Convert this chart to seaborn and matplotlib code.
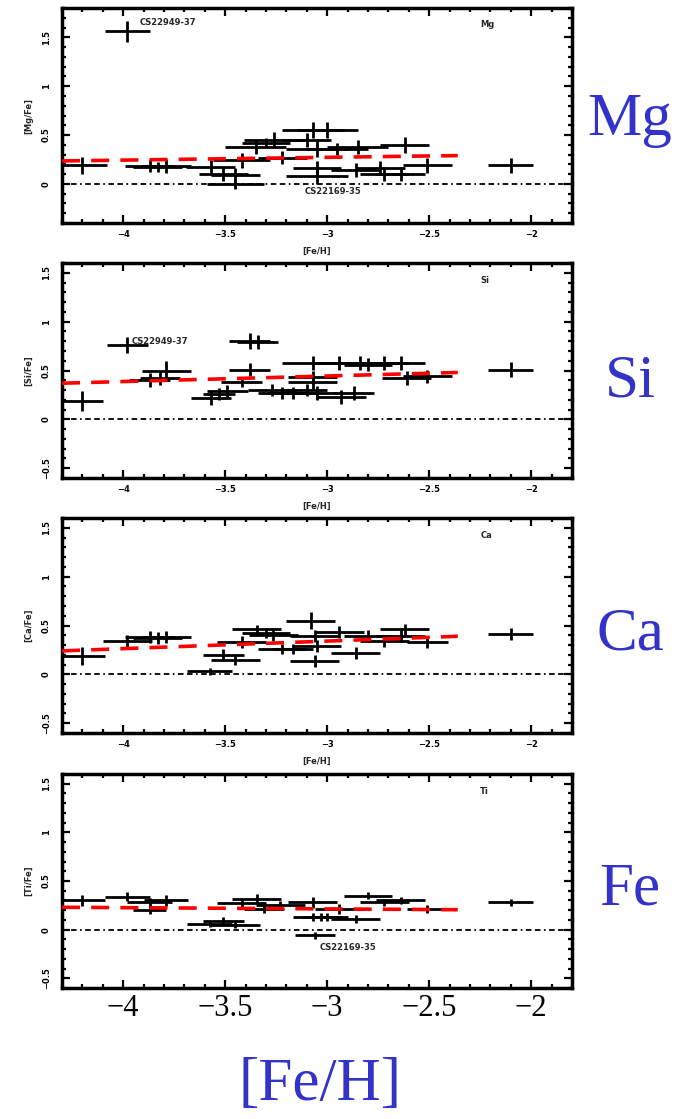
import numpy as np
import matplotlib
matplotlib.use("Agg")
import matplotlib.pyplot as plt
import seaborn as sns
from matplotlib.ticker import MultipleLocator, FixedLocator

# ---------------- data ----------------
mg_feh  = [-4.20, -3.98, -3.87, -3.83, -3.79, -3.57, -3.51, -3.45, -3.45, -3.42, -3.35, -3.30, -3.26, -3.22,
           -3.10, -3.07, -3.00, -3.05, -3.05, -3.05, -2.95, -2.85, -2.86, -2.74, -2.72, -2.64, -2.62, -2.51, -2.10]
mg_val  = [0.19, 1.56, 0.18, 0.17, 0.18, 0.17, 0.10, 0.09, 0.00, 0.24, 0.38, 0.42, 0.45, 0.27,
           0.45, 0.55, 0.55, 0.36, 0.16, 0.08, 0.36, 0.38, 0.14, 0.16, 0.10, 0.10, 0.40, 0.19, 0.19]
mg_xerr = [0.12, 0.11, 0.12, 0.12, 0.12, 0.12, 0.12, 0.12, 0.14, 0.14, 0.15, 0.12, 0.15, 0.12,
           0.12, 0.15, 0.15, 0.15, 0.12, 0.15, 0.15, 0.15, 0.12, 0.12, 0.12, 0.12, 0.12, 0.12, 0.11]
mg_yerr = [0.09, 0.11, 0.06, 0.05, 0.07, 0.07, 0.07, 0.07, 0.05, 0.08, 0.07, 0.05, 0.08, 0.07,
           0.07, 0.08, 0.08, 0.08, 0.07, 0.08, 0.06, 0.07, 0.07, 0.07, 0.07, 0.07, 0.08, 0.08, 0.08]

si_feh  = [-4.20, -3.98, -3.87, -3.82, -3.79, -3.57, -3.53, -3.49, -3.42, -3.38, -3.38, -3.34, -3.27, -3.22, -3.17,
           -3.10, -3.07, -3.07, -3.07, -3.05, -2.94, -2.93, -2.87, -2.84, -2.80, -2.72, -2.64, -2.61, -2.51, -2.10]
si_val  = [0.19, 0.76, 0.40, 0.42, 0.50, 0.22, 0.26, 0.29, 0.38, 0.51, 0.80, 0.79, 0.30, 0.27, 0.27,
           0.30, 0.58, 0.43, 0.38, 0.27, 0.58, 0.23, 0.27, 0.58, 0.56, 0.58, 0.58, 0.42, 0.44, 0.51]
si_xerr = [0.10, 0.10, 0.10, 0.10, 0.12, 0.10, 0.08, 0.10, 0.10, 0.10, 0.10, 0.10, 0.12, 0.12, 0.12,
           0.10, 0.15, 0.12, 0.12, 0.10, 0.12, 0.12, 0.10, 0.12, 0.12, 0.12, 0.12, 0.12, 0.12, 0.11]
si_yerr = [0.10, 0.08, 0.07, 0.07, 0.10, 0.07, 0.06, 0.06, 0.05, 0.07, 0.08, 0.07, 0.06, 0.06, 0.06,
           0.06, 0.07, 0.07, 0.07, 0.07, 0.07, 0.07, 0.07, 0.07, 0.07, 0.07, 0.07, 0.07, 0.07, 0.08]

ca_feh  = [-4.20, -3.98, -3.87, -3.83, -3.79, -3.575, -3.51, -3.45, -3.42, -3.345, -3.30, -3.265, -3.22,
           -3.17, -3.08, -3.06, -3.06, -3.05, -2.94, -2.86, -2.80, -2.72, -2.64, -2.62, -2.51, -2.10]
ca_val  = [0.19, 0.34, 0.38, 0.37, 0.38, 0.03, 0.20, 0.15, 0.33, 0.46, 0.42, 0.40, 0.26,
           0.26, 0.55, 0.39, 0.14, 0.29, 0.43, 0.22, 0.39, 0.34, 0.39, 0.46, 0.33, 0.41]
ca_xerr = [0.11, 0.12, 0.12, 0.12, 0.12, 0.11, 0.10, 0.12, 0.12, 0.12, 0.12, 0.12, 0.12,
           0.10, 0.12, 0.12, 0.12, 0.12, 0.12, 0.12, 0.12, 0.12, 0.12, 0.12, 0.10, 0.11]
ca_yerr = [0.09, 0.06, 0.06, 0.06, 0.06, 0.04, 0.06, 0.05, 0.06, 0.05, 0.05, 0.06, 0.05,
           0.05, 0.09, 0.06, 0.06, 0.06, 0.06, 0.06, 0.06, 0.06, 0.06, 0.06, 0.06, 0.06]

ti_feh  = [-4.20, -3.98, -3.87, -3.87, -3.79, -3.575, -3.51, -3.45, -3.42, -3.345, -3.31, -3.23,
           -3.07, -3.07, -3.06, -3.03, -3.00, -2.94, -2.86, -2.80, -2.72, -2.64, -2.51, -2.10]
ti_val  = [0.30, 0.34, 0.28, 0.20, 0.30, 0.06, 0.09, 0.05, 0.27, 0.32, 0.21, 0.25,
           0.28, 0.13, -0.06, 0.13, 0.13, 0.21, 0.11, 0.35, 0.28, 0.30, 0.21, 0.28]
ti_xerr = [0.11, 0.11, 0.11, 0.08, 0.11, 0.11, 0.10, 0.12, 0.12, 0.12, 0.10, 0.12,
           0.12, 0.10, 0.10, 0.10, 0.10, 0.12, 0.12, 0.12, 0.12, 0.12, 0.10, 0.11]
ti_yerr = [0.06, 0.05, 0.05, 0.04, 0.06, 0.03, 0.04, 0.03, 0.04, 0.05, 0.04, 0.04,
           0.06, 0.04, 0.04, 0.04, 0.04, 0.05, 0.04, 0.04, 0.04, 0.04, 0.04, 0.04]

fit_feh = [-4.30, -2.36]
mg_fit = [0.235, 0.29]
si_fit = [0.37, 0.48]
ca_fit = [0.24, 0.39]
ti_fit = [0.23, 0.205]

elements = ["Mg", "Si", "Ca", "Ti"]
side_labels = ["Mg", "Si", "Ca", "Fe"]
ylabels = ["[Mg/Fe]", "[Si/Fe]", "[Ca/Fe]", "[Ti/Fe]"]
x_ticks = [-4, -3.5, -3, -2.5, -2]
x_ticklabels = ["\u22124", "\u22123.5", "\u22123", "\u22122.5", "\u22122"]

# ---------------- plotting ----------------
sns.set_theme(style="ticks")
plt.rcParams["font.family"] = ["DejaVu Sans"]
plt.rcParams["lines.scale_dashes"] = False

W, H = 682, 1119
fig = plt.figure(figsize=(W / 100, H / 100), dpi=100)

panels = [
    (mg_feh, mg_val, mg_xerr, mg_yerr, mg_fit, (-0.4, 1.8), [0, 0.5, 1, 1.5], 8, 223),
    (si_feh, si_val, si_xerr, si_yerr, si_fit, (-0.6, 1.6), [-0.5, 0, 0.5, 1, 1.5], 263, 478),
    (ca_feh, ca_val, ca_xerr, ca_yerr, ca_fit, (-0.6, 1.6), [-0.5, 0, 0.5, 1, 1.5], 518, 733),
    (ti_feh, ti_val, ti_xerr, ti_yerr, ti_fit, (-0.6, 1.6), [-0.5, 0, 0.5, 1, 1.5], 774, 988),
]

small = dict(fontsize=6, fontweight="bold", family="DejaVu Sans")
blue = "#3333cc"

for i, (fx, fy, fxe, fye, fit, ylim, yt, top, bot) in enumerate(panels):
    ax = fig.add_axes([62 / W, 1 - bot / H, 510 / W, (bot - top) / H])
    ax.set_facecolor("white")
    ax.errorbar(fx, fy, xerr=fxe, yerr=fye, fmt="none", ecolor="black",
                elinewidth=2.0, capsize=0, zorder=3)
    sns.lineplot(x=fit_feh, y=fit, ax=ax, color="red", linewidth=2.6,
                 linestyle=(0, (13, 8)), zorder=4)
    ax.axhline(0, color="black", linewidth=1.3, linestyle=(0, (4, 2.5, 4, 2.5, 1.2, 2.5)), zorder=2)
    ax.set_xlim(-4.3, -1.8)
    ax.set_ylim(*ylim)
    ax.xaxis.set_major_locator(FixedLocator(x_ticks))
    ax.xaxis.set_minor_locator(MultipleLocator(0.1))
    ax.yaxis.set_major_locator(FixedLocator(yt))
    ax.yaxis.set_minor_locator(MultipleLocator(0.1))
    ax.tick_params(which="both", direction="in", top=True, right=True, width=1.6, colors="black")
    ax.tick_params(which="major", length=6)
    ax.tick_params(which="minor", length=3)
    for s in ax.spines.values():
        s.set_linewidth(2.5)
        s.set_color("black")
    ax.set_yticks(yt)
    ax.set_yticklabels([("%g" % v).replace("-", "\u2212") for v in yt], rotation=90,
                       va="center", **small)
    ax.set_xticks(x_ticks)
    if i < 3:
        ax.set_xticklabels(x_ticklabels, **small)
        ax.tick_params(axis="x", pad=5)
        ax.set_xlabel("[Fe/H]", labelpad=6, **small)
    else:
        ax.set_xticklabels(x_ticklabels, fontsize=22, family="Liberation Serif")
        ax.tick_params(axis="x", pad=4)
        ax.set_xlabel("")
    ax.tick_params(axis="y", pad=8)
    ax.set_ylabel(ylabels[i], labelpad=6, **small)
    ax.text(-2.25, ylim[1] - 0.17 if i == 0 else ylim[1] - 0.18, elements[i], ha="left",
            va="center", **small)
    if i == 0:
        ax.text(-3.92, 1.65, "CS22949-37", ha="left", va="center", **small)
        ax.text(-3.11, -0.08, "CS22169-35", ha="left", va="center", **small)
    elif i == 1:
        ax.text(-3.96, 0.80, "CS22949-37", ha="left", va="center", **small)
    elif i == 3:
        ax.text(-3.035, -0.18, "CS22169-35", ha="left", va="center", **small)
    ax.grid(False)
    fig.text(630 / W, 1 - [120, 382, 635, 890][i] / H, side_labels[i], color=blue,
             fontsize=44, family="Liberation Serif", ha="center", va="center")

fig.text(320 / W, 1 - 1085 / H, "[Fe/H]", color=blue, fontsize=44,
         family="Liberation Serif", ha="center", va="center")

fig.savefig("out.png", dpi=100, facecolor="white")
